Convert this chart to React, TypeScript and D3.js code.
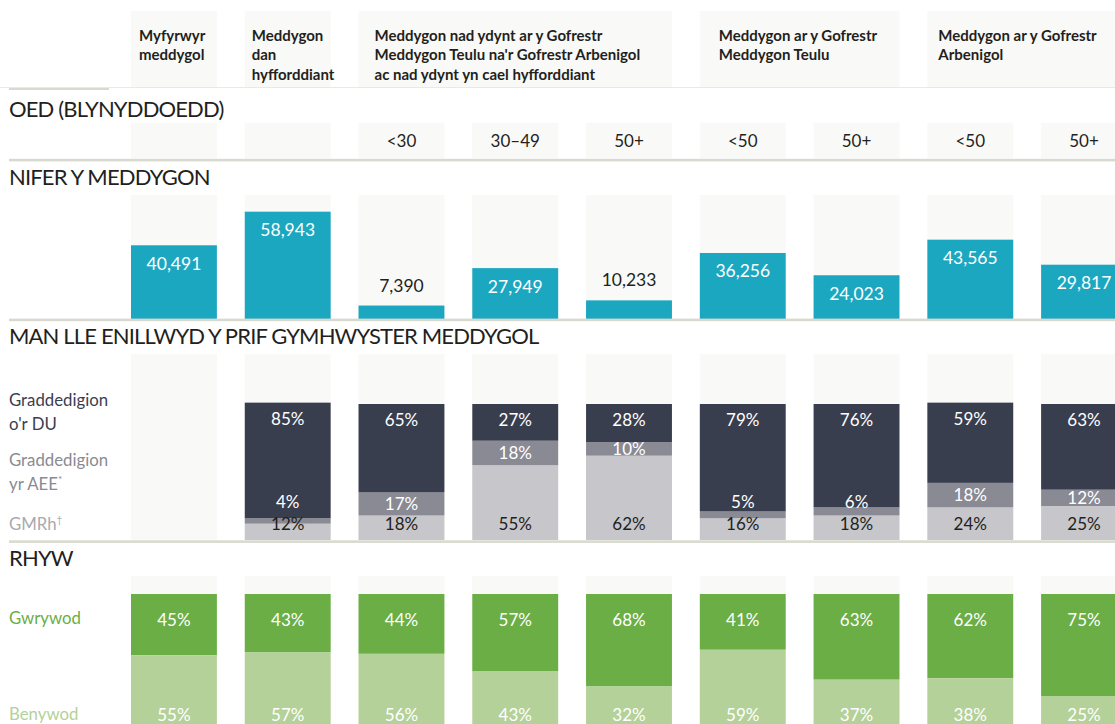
import React from "react";
import * as d3 from "d3";

// ---------- DATA ----------
const columns = ["c1", "c2", "c3", "c4", "c5", "c6", "c7", "c8", "c9"];
const groupHeaders = [
  { lines: ["Myfyrwyr", "meddygol"], from: 0, to: 0 },
  { lines: ["Meddygon", "dan", "hyfforddiant"], from: 1, to: 1 },
  {
    lines: [
      "Meddygon nad ydynt ar y Gofrestr",
      "Meddygon Teulu na'r Gofrestr Arbenigol",
      "ac nad ydynt yn cael hyfforddiant",
    ],
    from: 2,
    to: 4,
  },
  { lines: ["Meddygon ar y Gofrestr", "Meddygon Teulu"], from: 5, to: 6 },
  { lines: ["Meddygon ar y Gofrestr", "Arbenigol"], from: 7, to: 8 },
];
const ageLabels = ["", "", "<30", "30–49", "50+", "<50", "50+", "<50", "50+"];
const doctorCounts = [40491, 58943, 7390, 27949, 10233, 36256, 24023, 43565, 29817];
const ukGrads = [null, 85, 65, 27, 28, 79, 76, 59, 63];
const eeaGrads = [null, 4, 17, 18, 10, 5, 6, 18, 12];
const imgGrads = [null, 12, 18, 55, 62, 16, 18, 24, 25];
const malePct = [45, 43, 44, 57, 68, 41, 63, 62, 75];
const femalePct = [55, 57, 56, 43, 32, 59, 37, 38, 25];

const sectionTitles = {
  age: "OED (BLYNYDDOEDD)",
  count: "NIFER Y MEDDYGON",
  origin: "MAN LLE ENILLWYD Y PRIF GYMHWYSTER MEDDYGOL",
  sex: "RHYW",
};

// ---------- STYLE / LAYOUT ----------
const W = 1115;
const H = 724;
const FONT = "Lato, 'Open Sans', sans-serif";
const C = {
  colBg: "#f9f9f7",
  line: "#d9dacf",
  thinLine: "#e9e9e5",
  teal: "#1ca7c1",
  navy: "#393e4f",
  eea: "#8a8a94",
  img: "#c6c6cb",
  green: "#6aae45",
  lightGreen: "#b4d199",
  text: "#231f20",
};
const headerPad = [8, 7, 16, 19, 11];

export default function App() {
  const x = d3
    .scaleBand<string>()
    .domain(columns)
    .range([131, 1127])
    .paddingInner(0.245)
    .paddingOuter(0);
  const bw = x.bandwidth();
  const cx = (i: number) => (x(columns[i]) as number) + bw / 2;

  // count bars
  const countBase = 319;
  const yCount = d3.scaleLinear().domain([0, 68100]).range([countBase, 195]);

  // origin stacked bars
  const originBase = 540;
  const yOrigin = d3.scaleLinear().domain([0, 100]).range([originBase, originBase - 136]);

  // sex bars (top aligned at 594)
  const sexTop = 594;
  const ySex = d3.scaleLinear().domain([0, 100]).range([sexTop, sexTop + 136]);

  const sectionText = (t: string, y: number) => (
    <text x={9} y={y} fontSize={22} letterSpacing={-0.85} fill={C.text} fontFamily={FONT}>
      {t}
    </text>
  );

  const stackData = columns.map((_, i) =>
    ukGrads[i] == null ? null : { img: imgGrads[i] as number, eea: eeaGrads[i] as number, uk: ukGrads[i] as number }
  );

  return (
    <div style={{ position: "fixed", left: 0, top: 0, width: W, height: H, overflow: "hidden", background: "#fff" }}>
      <svg width={W} height={H} style={{ display: "block" }} fontFamily={FONT}>
        {/* header backgrounds */}
        {groupHeaders.map((g, gi) => {
          const x0 = x(columns[g.from]) as number;
          const x1 = (x(columns[g.to]) as number) + bw;
          return (
            <g key={"h" + gi}>
              <rect x={x0} y={11} width={x1 - x0} height={76.5} fill={C.colBg} />
              {g.lines.map((l, li) => (
                <text
                  key={li}
                  x={x0 + headerPad[gi]}
                  y={41 + li * 19.3}
                  fontSize={15}
                  fontWeight={700}
                  fill={C.text}
                >
                  {l}
                </text>
              ))}
            </g>
          );
        })}
        <rect x={0} y={87} width={W} height={1} fill={C.thinLine} />
        <rect x={9} y={88} width={100} height={2} fill={C.line} />

        {/* AGE */}
        {sectionText(sectionTitles.age, 116.7)}
        {columns.map((c, i) => (
          <g key={"a" + c}>
            <rect x={x(c)} y={122.7} width={bw} height={35.6} fill={C.colBg} />
            <text x={cx(i)} y={146.7} textAnchor="middle" fontSize={17} fill={C.text}>
              {ageLabels[i]}
            </text>
          </g>
        ))}
        <rect x={9} y={158.8} width={W} height={2.6} fill={C.line} />

        {/* COUNT */}
        {sectionText(sectionTitles.count, 185)}
        {columns.map((c, i) => {
          const top = yCount(doctorCounts[i]);
          const inside = countBase - top > 30;
          return (
            <g key={"n" + c}>
              <rect x={x(c)} y={195} width={bw} height={countBase - 195} fill={C.colBg} />
              <rect x={x(c)} y={top} width={bw} height={countBase - top} fill={C.teal} />
              <text
                x={cx(i)}
                y={inside ? top + 24.5 : top - 14}
                textAnchor="middle"
                fontSize={17.5}
                fill={inside ? "#fff" : C.text}
              >
                {d3.format(",")(doctorCounts[i])}
              </text>
            </g>
          );
        })}
        <rect x={9} y={318.6} width={W} height={2.6} fill={C.line} />

        {/* ORIGIN */}
        {sectionText(sectionTitles.origin, 344)}
        <g fontSize={16.8}>
          <text x={9} y={406} fill={C.navy}>Graddedigion</text>
          <text x={9} y={430} fill={C.navy}>o'r DU</text>
          <text x={9} y={466} fill={C.eea}>Graddedigion</text>
          <text x={9} y={490} fill={C.eea}>
            yr AEE<tspan fontSize={10} dy={-7}>*</tspan>
          </text>
          <text x={9} y={530} fill="#a9a9b0">
            GMRh<tspan fontSize={10} dy={-7}>†</tspan>
          </text>
        </g>
        {columns.map((c, i) => {
          const d = stackData[i];
          const x0 = x(c) as number;
          if (!d) {
            return <rect key={"o" + c} x={x0} y={354} width={bw} height={originBase - 354} fill={C.colBg} />;
          }
          const imgTop = yOrigin(d.img);
          const eeaTop = yOrigin(d.img + d.eea);
          const ukTop = yOrigin(d.img + d.eea + d.uk);
          const eeaH = imgTop - eeaTop;
          const imgLabelY = originBase - 10;
          const eeaLabelY =
            eeaH < 10 ? Math.min(eeaTop + 1, imgLabelY - 22) : (eeaTop + imgTop) / 2 + 6;
          return (
            <g key={"o" + c}>
              <rect x={x0} y={354} width={bw} height={originBase - 354} fill={C.colBg} />
              <rect x={x0} y={imgTop} width={bw} height={originBase - imgTop} fill={C.img} />
              <rect x={x0} y={eeaTop} width={bw} height={eeaH} fill={C.eea} />
              <rect x={x0} y={ukTop} width={bw} height={eeaTop - ukTop} fill={C.navy} />
              <text x={cx(i)} y={ukTop + 22} textAnchor="middle" fontSize={17} fill="#fff">
                {d.uk}%
              </text>
              <text x={cx(i)} y={eeaLabelY} textAnchor="middle" fontSize={17} fill="#fff">
                {d.eea}%
              </text>
              <text x={cx(i)} y={imgLabelY} textAnchor="middle" fontSize={17} fill={C.text}>
                {d.img}%
              </text>
            </g>
          );
        })}
        <rect x={9} y={540.3} width={W} height={2.6} fill={C.line} />

        {/* SEX */}
        {sectionText(sectionTitles.sex, 566)}
        <text x={9} y={624} fontSize={16.8} fill={C.green}>Gwrywod</text>
        <text x={9} y={720} fontSize={16.8} fill={C.lightGreen}>Benywod</text>
        {columns.map((c, i) => {
          const x0 = x(c) as number;
          const mid = ySex(malePct[i]);
          const bottom = ySex(malePct[i] + femalePct[i]);
          return (
            <g key={"s" + c}>
              <rect x={x0} y={576} width={bw} height={H - 576 + 20} fill={C.colBg} />
              <rect x={x0} y={sexTop} width={bw} height={mid - sexTop} fill={C.green} />
              <rect x={x0} y={mid} width={bw} height={bottom - mid} fill={C.lightGreen} />
              <text x={cx(i)} y={625.5} textAnchor="middle" fontSize={17} fill="#fff">
                {malePct[i]}%
              </text>
              <text x={cx(i)} y={720.5} textAnchor="middle" fontSize={17} fill="#fff">
                {femalePct[i]}%
              </text>
            </g>
          );
        })}
      </svg>
    </div>
  );
}
